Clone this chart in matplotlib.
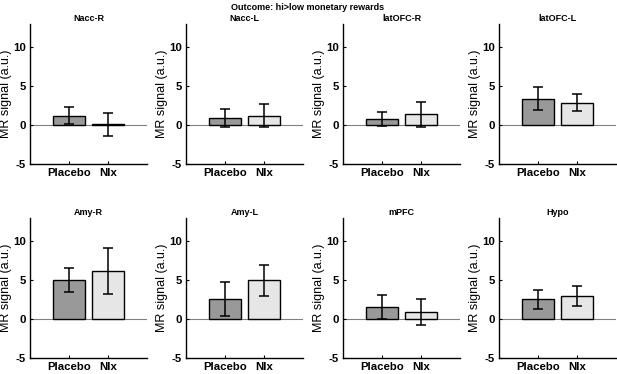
import numpy as np
import matplotlib.pyplot as plt

plt.rcParams['font.family'] = ['Liberation Sans', 'DejaVu Sans']
plt.rcParams['axes.unicode_minus'] = False

regions = ['Nacc-R', 'Nacc-L', 'latOFC-R', 'latOFC-L',
           'Amy-R', 'Amy-L', 'mPFC', 'Hypo']
groups = ['Placebo', 'Nlx']

placebo_mean = [1.2, 0.9, 0.8, 3.4, 5.0, 2.6, 1.55, 2.55]
placebo_err = [1.1, 1.2, 0.95, 1.5, 1.55, 2.2, 1.5, 1.25]
nlx_mean = [0.1, 1.2, 1.4, 2.9, 6.2, 5.0, 0.95, 3.0]
nlx_err = [1.5, 1.5, 1.6, 1.1, 2.95, 2.0, 1.7, 1.3]

yticks = [-5, 0, 5, 10]

W, H = 617, 374
fig = plt.figure(figsize=(W / 100, H / 100), dpi=100)

lefts = [30, 186, 343, 499]
tops = [24, 218]
aw, ah = 117, 140

for i, name in enumerate(regions):
    r, c = divmod(i, 4)
    ax = fig.add_axes([lefts[c] / W, (H - tops[r] - ah) / H, aw / W, ah / H])
    x = np.array([1, 2])
    ax.axhline(0, color='#808080', lw=0.8, zorder=1)
    ax.bar(x, [placebo_mean[i], nlx_mean[i]], width=0.8,
           color=['#999999', '#e6e6e6'], edgecolor='black', lw=1.0, zorder=2)
    ax.errorbar(x, [placebo_mean[i], nlx_mean[i]],
                yerr=[placebo_err[i], nlx_err[i]], fmt='none',
                ecolor='black', elinewidth=1.1, capsize=3.5, capthick=1.1, zorder=3)
    ax.set_xlim(0, 3)
    ax.set_ylim(-5, 13)
    ax.set_xticks(x)
    ax.set_xticklabels(groups)
    ax.set_yticks(yticks)
    ax.tick_params(direction='in', length=2.5, width=0.8, labelsize=8.2, pad=3)
    for lab in ax.get_xticklabels() + ax.get_yticklabels():
        lab.set_fontweight('bold')
    ax.spines['top'].set_visible(False)
    ax.spines['right'].set_visible(False)
    ax.spines['left'].set_linewidth(1.0)
    ax.spines['bottom'].set_linewidth(1.0)
    ax.set_title(name, fontsize=6.5, fontweight='bold', pad=2.5)
    ax.set_ylabel('MR signal (a.u.)', fontsize=9)
    ax.yaxis.set_label_coords(-18 / aw, 0.5)

fig.text(308 / W, 1 - 8 / H, 'Outcome: hi>low monetary rewards',
         ha='center', va='center', fontsize=6.5, fontweight='bold')

fig.savefig('out.png', dpi=100)
